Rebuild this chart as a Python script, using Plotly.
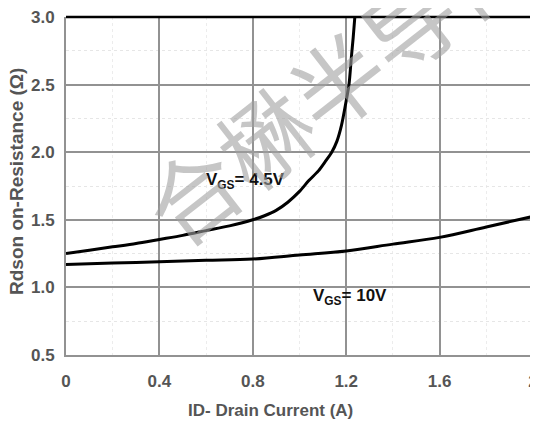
import plotly.graph_objects as go

# V_GS = 4.5 V curve
id_45 = [0, 0.1, 0.2, 0.3, 0.4, 0.5, 0.6, 0.7, 0.8, 0.85, 0.9, 0.95, 1.0, 1.04, 1.08, 1.11, 1.138, 1.16, 1.18, 1.2, 1.212, 1.222, 1.23, 1.237]
r_45 = [1.25, 1.275, 1.30, 1.325, 1.355, 1.385, 1.42, 1.455, 1.50, 1.53, 1.57, 1.63, 1.71, 1.79, 1.86, 1.93, 2.0, 2.08, 2.2, 2.38, 2.5, 2.7, 2.85, 3.0]

# V_GS = 10 V curve
id_10 = [0, 0.2, 0.4, 0.6, 0.8, 1.0, 1.2, 1.4, 1.6, 1.8, 2.0]
r_10 = [1.17, 1.18, 1.19, 1.2, 1.21, 1.24, 1.27, 1.32, 1.37, 1.447, 1.525]

x_ticks = [0, 0.4, 0.8, 1.2, 1.6, 2]
x_tick_text = ["0", "0.4", "0.8", "1.2", "1.6", "2"]
y_ticks = [0.5, 1.0, 1.5, 2.0, 2.5, 3.0]
y_tick_text = ["0.5", "1.0", "1.5", "2.0", "2.5", "3.0"]

x_title = "ID- Drain Current (A)"
y_title = "Rdson on-Resistance (Ω)"
label_45 = "V<sub>GS</sub>= 4.5V"
label_10 = "V<sub>GS</sub>= 10V"
watermark = "合楙半导体"

FONT = "Liberation Sans, Arial"
GRAY_TXT = "#555"

# page has an 8px body margin; compensate so plot area lands at x 66-533, y 17-355
W, H = 530, 415
L, T, R, B = 58, 9, 5, 68
PW, PH = W - L - R, H - T - B


def px(xp):  # page x -> paper fraction
    return (xp - 66) / PW


def py(yp):  # page y -> paper fraction
    return (355 - yp) / PH


fig = go.Figure()
fig.add_trace(go.Scatter(x=id_45, y=r_45, mode="lines", line=dict(color="#000", width=3, shape="spline", smoothing=0.8), showlegend=False))
fig.add_trace(go.Scatter(x=id_10, y=r_10, mode="lines", line=dict(color="#000", width=3, shape="spline"), showlegend=False))

tickfont = dict(family=FONT, size=17, color=GRAY_TXT, weight="bold")
fig.update_xaxes(range=[0, 2], tickvals=x_ticks, ticktext=x_tick_text, tickfont=tickfont, automargin=False,
                 showgrid=True, gridcolor="#929292", gridwidth=1.5, zeroline=False, ticklabeloverflow="allow",
                 showline=True, linecolor="#929292", linewidth=2, ticks="", ticklabelstandoff=10,
                 minor=dict(tickvals=[0.2, 0.6, 1.0, 1.4, 1.8], showgrid=True, gridcolor="#ececec", griddash="dot", gridwidth=1))
fig.update_yaxes(range=[0.5, 3.0], tickvals=y_ticks, ticktext=y_tick_text, tickfont=tickfont, automargin=False,
                 showgrid=True, gridcolor="#929292", gridwidth=1.5, zeroline=False, ticklabeloverflow="allow",
                 showline=True, linecolor="#929292", linewidth=2, ticks="", ticklabelstandoff=6,
                 minor=dict(tickvals=[0.75, 1.25, 1.75, 2.25, 2.75], showgrid=True, gridcolor="#e6e6e6", griddash="dot", gridwidth=1))

# black top and right frame
fig.add_shape(type="line", xref="paper", yref="paper", x0=0, x1=1, y0=1, y1=1, line=dict(color="#000", width=2.5))
fig.add_shape(type="line", xref="paper", yref="paper", x0=1, x1=1, y0=0, y1=1, line=dict(color="#000", width=2.5))

# axis titles
fig.add_annotation(xref="paper", yref="paper", x=px(270), y=py(410), text=x_title, showarrow=False,
                   xanchor="center", yanchor="middle",
                   font=dict(family=FONT, size=17, color=GRAY_TXT, weight="bold"))
fig.add_annotation(xref="paper", yref="paper", x=px(16), y=py(182), text=y_title, showarrow=False,
                   xanchor="center", yanchor="middle", textangle=-90,
                   font=dict(family=FONT, size=19, color=GRAY_TXT, weight="bold"))

fig.add_annotation(x=0.769, y=1.79, text=label_45, showarrow=False,
                   font=dict(family=FONT, size=17, color="#111", weight="bold"))
fig.add_annotation(x=1.218, y=0.928, text=label_10, showarrow=False,
                   font=dict(family=FONT, size=17, color="#111", weight="bold"))

fig.add_annotation(xref="paper", yref="paper", x=px(335), y=py(78), text=watermark,
                   xanchor="center", yanchor="middle",
                   showarrow=False, textangle=-38,
                   font=dict(family="Noto Sans CJK SC", size=92, color="rgba(160,160,160,0.6)"))

fig.update_layout(width=W, height=H, margin=dict(l=L, r=R, t=T, b=B),
                  plot_bgcolor="white", paper_bgcolor="white")

fig.write_html("out.html")
